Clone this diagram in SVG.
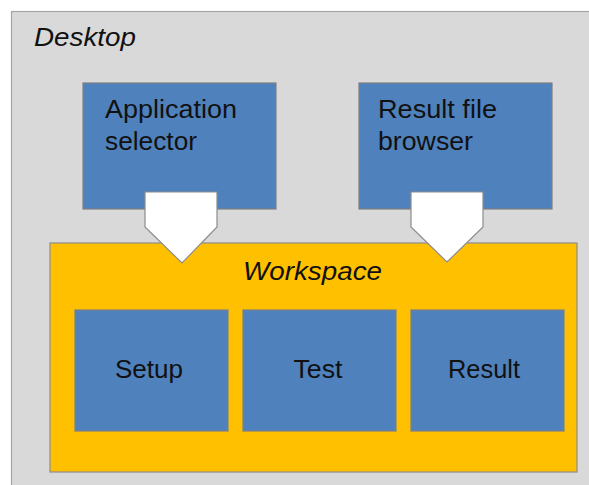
<svg xmlns="http://www.w3.org/2000/svg" width="589" height="485" viewBox="0 0 589 485">
<style>
.t{font-family:"Liberation Sans",Arial,sans-serif;font-size:25px;fill:#111}
.it{font-style:italic}
.blue{fill:#4f81bd;stroke:#7f7f7f;stroke-width:1.2}
.arrow{fill:#ffffff;stroke:#8c8c8c;stroke-width:1.2}
</style>
<rect width="589" height="485" fill="#ffffff"/>
<g id="desktop">
<rect x="11.5" y="11.5" width="590" height="490" fill="#d9d9d9" stroke="#a6a6a6" stroke-width="1.2"/>
<text class="t it" x="34" y="46" textLength="102" lengthAdjust="spacingAndGlyphs">Desktop</text>
</g>
<g id="app-selector">
<rect class="blue" x="83" y="83" width="193" height="126"/>
<text class="t" x="105" y="118" textLength="132" lengthAdjust="spacingAndGlyphs">Application</text>
<text class="t" x="105" y="150" textLength="92" lengthAdjust="spacingAndGlyphs">selector</text>
</g>
<g id="result-browser">
<rect class="blue" x="359" y="83" width="193" height="126"/>
<text class="t" x="378" y="118" textLength="119" lengthAdjust="spacingAndGlyphs">Result file</text>
<text class="t" x="378" y="150" textLength="95" lengthAdjust="spacingAndGlyphs">browser</text>
</g>
<g id="workspace">
<rect x="50" y="243" width="527" height="229" fill="#ffc000" stroke="#8c8c8c" stroke-width="1.2"/>
<text class="t it" x="243" y="280" textLength="139" lengthAdjust="spacingAndGlyphs">Workspace</text>
</g>
<g id="setup">
<rect class="blue" x="75" y="310" width="153" height="121"/>
<text class="t" x="149" y="378" text-anchor="middle" textLength="68" lengthAdjust="spacingAndGlyphs">Setup</text>
</g>
<g id="test">
<rect class="blue" x="243" y="310" width="153" height="121"/>
<text class="t" x="318" y="378" text-anchor="middle" textLength="49" lengthAdjust="spacingAndGlyphs">Test</text>
</g>
<g id="result">
<rect class="blue" x="411" y="310" width="153" height="121"/>
<text class="t" x="484" y="378" text-anchor="middle" textLength="72" lengthAdjust="spacingAndGlyphs">Result</text>
</g>
<g id="connectors">
<path class="arrow" d="M145,192 H217 V227 L182,263 L145,227 Z"/>
<path class="arrow" d="M411,192 H483 V227 L447,262 L411,227 Z"/>
</g>
</svg>
